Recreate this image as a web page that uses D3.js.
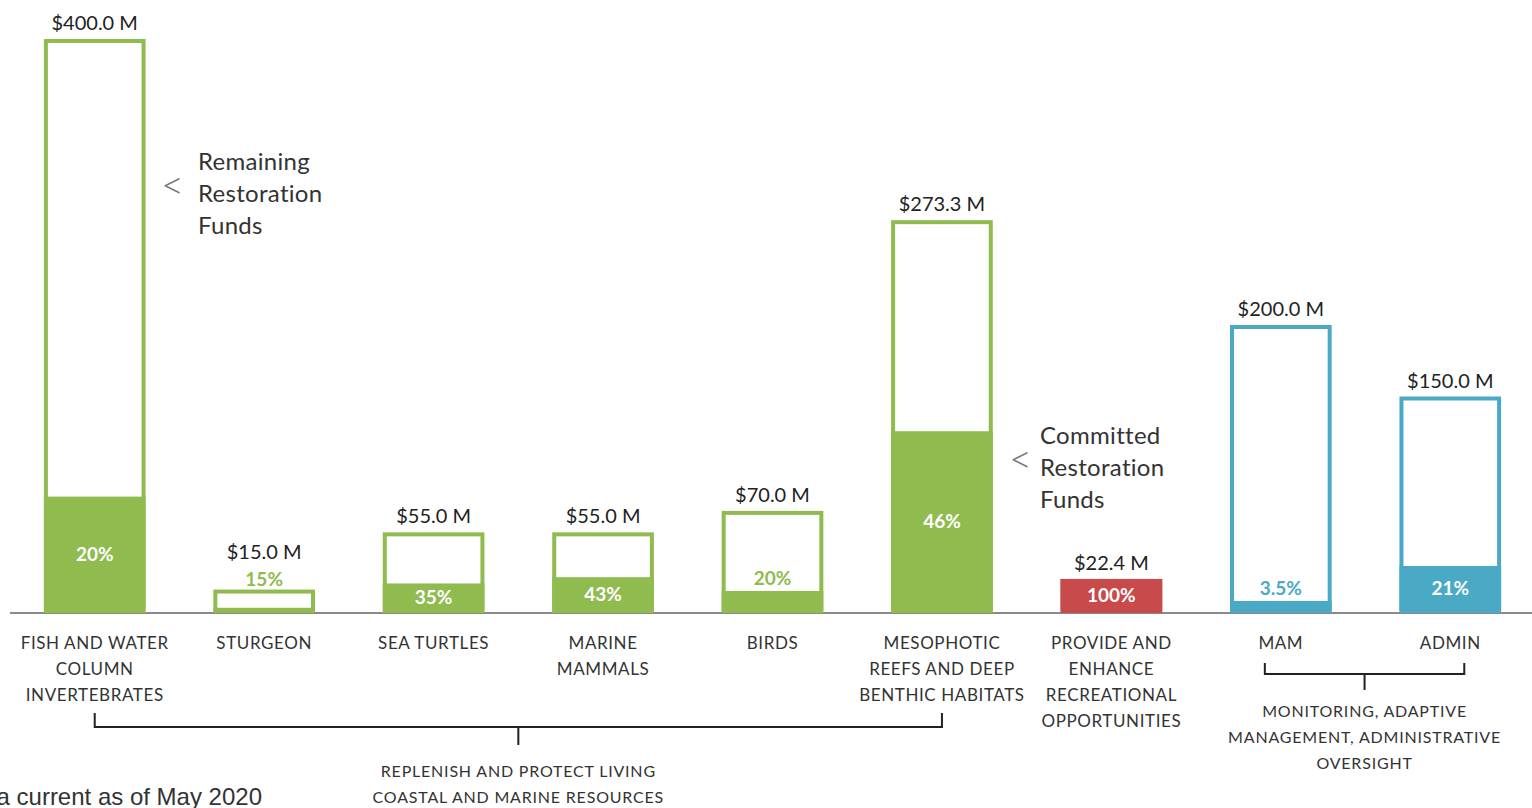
<!DOCTYPE html>
<html>
<head>
<meta charset="utf-8">
<script src="https://cdn.jsdelivr.net/npm/d3@7"></script>
<style>
  body { margin: 0; background: #fff; }
  text { font-family: Lato, "Open Sans", sans-serif; }
</style>
</head>
<body>
<svg id="chart" width="1532" height="808"></svg>
<script>
// data
const categories = [
    ['FISH AND WATER', 'COLUMN', 'INVERTEBRATES'],
    ['STURGEON'],
    ['SEA TURTLES'],
    ['MARINE', 'MAMMALS'],
    ['BIRDS'],
    ['MESOPHOTIC', 'REEFS AND DEEP', 'BENTHIC HABITATS'],
    ['PROVIDE AND', 'ENHANCE', 'RECREATIONAL', 'OPPORTUNITIES'],
    ['MAM'],
    ['ADMIN']
];
const totals = [400, 15, 55, 55, 70, 273.3, 22.4, 200, 150];
const committedPct = [20, 15, 35, 43, 20, 46, 100, 3.5, 21];
const pctLabels = ['20%', '15%', '35%', '43%', '20%', '46%', '100%', '3.5%', '21%'];
const colorKeys = ['green', 'green', 'green', 'green', 'green', 'green', 'red', 'blue', 'blue'];
const groupLabels = [
    ['REPLENISH AND PROTECT LIVING', 'COASTAL AND MARINE RESOURCES'],
    ['MONITORING, ADAPTIVE', 'MANAGEMENT, ADMINISTRATIVE', 'OVERSIGHT']
];
const groupSpans = [[0, 5], [7, 8]];

const colors = { green: '#8fbb4f', red: '#c84a4b', blue: '#4aaac6' };

const svg = d3.select('#chart');
const baseY = 611;

const x = d3.scaleBand()
    .domain(d3.range(categories.length))
    .range([10, 1535])
    .paddingInner(0.4)
    .paddingOuter(0.2);

const y = d3.scaleLinear()
    .domain([0, 400])
    .range([baseY, 39]);

const bw = x.bandwidth();
const cx = i => x(i) + bw / 2;

// where the percent label goes: inside the solid part, just above it, or above the whole box
function pctPlace(d, i) {
    const top = y(d * committedPct[i] / 100);
    const h = baseY - top;
    if (h >= 25) return { y: top + h / 2 + 7, inside: true, above: false };
    if (top - 20 < y(d)) return { y: y(d) - 4, inside: false, above: true };
    return { y: top - 6, inside: false, above: false };
}

// axis line
svg.append('line')
    .attr('x1', 10).attr('x2', 1532)
    .attr('y1', baseY + 2).attr('y2', baseY + 2)
    .style('stroke', '#8a8a8a')
    .attr('stroke-width', 2);

const bars = svg.selectAll('g.bar')
    .data(totals)
    .join('g')
    .attr('class', 'bar');

// remaining funds: outlined box
bars.append('rect')
    .attr('x', (d, i) => x(i) + 2)
    .attr('y', d => y(d) + 2)
    .attr('width', bw - 4)
    .attr('height', d => baseY - y(d) - 2)
    .style('fill', '#fff')
    .style('stroke', (d, i) => colors[colorKeys[i]])
    .attr('stroke-width', 4);

// committed funds: solid part
bars.append('rect')
    .attr('x', (d, i) => x(i))
    .attr('y', (d, i) => y(d * committedPct[i] / 100))
    .attr('width', bw)
    .attr('height', (d, i) => baseY - y(d * committedPct[i] / 100))
    .style('fill', (d, i) => colors[colorKeys[i]]);

// total labels
bars.append('text')
    .attr('x', (d, i) => cx(i))
    .attr('y', (d, i) => y(d) - 9 - (pctPlace(d, i).above ? 22 : 0))
    .attr('text-anchor', 'middle')
    .style('font-size', '20px')
    .style('fill', '#222')
    .text(d => '$' + d.toFixed(1) + ' M');

// percent labels
bars.append('text')
    .attr('x', (d, i) => cx(i))
    .attr('y', (d, i) => pctPlace(d, i).y)
    .attr('text-anchor', 'middle')
    .style('font-size', '19px')
    .style('font-weight', 'bold')
    .style('fill', (d, i) => pctPlace(d, i).inside ? '#fff' : colors[colorKeys[i]])
    .text((d, i) => pctLabels[i]);

// category labels
const catLabels = svg.selectAll('text.cat')
    .data(categories)
    .join('text')
    .attr('class', 'cat')
    .attr('text-anchor', 'middle')
    .style('font-size', '17px')
    .style('letter-spacing', '0.6px')
    .style('fill', '#333');

catLabels.selectAll('tspan')
    .data((d, i) => d.map(t => ({ t: t, i: i })))
    .join('tspan')
    .attr('x', d => cx(d.i))
    .attr('y', (d, j) => 649 + j * 26)
    .text(d => d.t);

// group brackets
function bracket(x1, x2, yb, up, down, lines, textY) {
    const mid = (x1 + x2) / 2;
    svg.append('path')
        .attr('d', `M${x1},${yb - up}V${yb}H${x2}V${yb - up}M${mid},${yb}V${yb + down}`)
        .style('fill', 'none')
        .style('stroke', '#222')
        .attr('stroke-width', 2);
    const t = svg.append('text')
        .attr('text-anchor', 'middle')
        .style('font-size', '16px')
        .style('letter-spacing', '0.8px')
        .style('fill', '#333');
    lines.forEach((l, j) => {
        t.append('tspan').attr('x', mid).attr('y', textY + j * 26).text(l);
    });
}

bracket(cx(groupSpans[0][0]), cx(groupSpans[0][1]), 727, 14, 18, groupLabels[0], 777);
bracket(cx(groupSpans[1][0]) - 16, cx(groupSpans[1][1]) + 14, 674, 11, 16, groupLabels[1], 717);

// side notes
function note(xArrow, xText, firstBase, lines) {
    svg.append('text')
        .attr('x', xArrow)
        .attr('y', firstBase + 29)
        .style('font-size', '40px')
        .style('font-weight', '300')
        .style('fill', '#777')
        .text('<');
    const t = svg.append('text')
        .style('font-size', '24px')
        .style('letter-spacing', '0.3px')
        .style('fill', '#333');
    lines.forEach((l, j) => {
        t.append('tspan').attr('x', xText).attr('y', firstBase + j * 32).text(l);
    });
}

note(161, 198, 170, ['Remaining', 'Restoration', 'Funds']);
note(1009, 1040, 444, ['Committed', 'Restoration', 'Funds']);

// footnote, cut at the left edge
svg.append('text')
    .attr('x', 262)
    .attr('y', 805)
    .attr('text-anchor', 'end')
    .style('font-family', '"Liberation Sans", Arial, sans-serif')
    .style('font-size', '24px')
    .style('fill', '#333')
    .text('Data current as of May 2020');
</script>
</body>
</html>
